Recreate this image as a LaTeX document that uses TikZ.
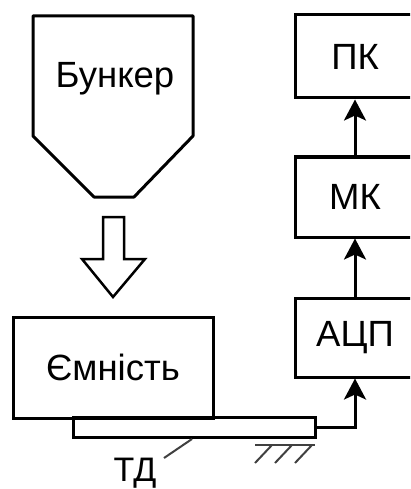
\documentclass[tikz,border=0pt]{standalone}
\usepackage{fontspec}
\setmainfont{Liberation Sans}
\usetikzlibrary{arrows.meta}
\tikzset{
  blok/.style={draw,line width=3pt,minimum width=120pt,inner sep=0pt},
  napys/.style={font=\fontsize{36.5}{42}\selectfont},
  strilka/.style={line width=3pt,-{Stealth[length=21pt,width=22pt,inset=5pt]}},
  tonka/.style={line width=2pt,black!75}
}
\begin{document}
\begin{tikzpicture}[x=1pt,y=-1pt]
\useasboundingbox (0,0) rectangle (410,489);
\clip (0,0) rectangle (410,489);
\draw[line width=3pt,line join=round] (33,136) -- (33,16) -- (193,16) -- (193,136) -- (134,197) -- (94,197) -- cycle;
\node[napys] (bunker) at (115,79) {Бункер};
\draw[line width=2.5pt,fill=white] (103,217) -- (124,217) -- (124,259) -- (145,259) -- (113,297) -- (82,259) -- (103,259) -- cycle;
\node[blok,napys,minimum width=200pt,minimum height=101pt] (emnist) at (113,367.5) {Ємність};
\node[draw,line width=3pt,minimum width=242pt,minimum height=20pt,inner sep=0pt] (td) at (194,427.5) {};
\node[blok,napys,minimum height=83pt] (pk) at (355,56.5) {ПК};
\node[blok,napys,minimum height=80pt] (mk) at (355,197) {МК};
\node[blok,napys,minimum height=79pt] (adc) at (355,337.5) {АЦП};
\draw[strilka] (td.east) -| (adc.south);
\draw[strilka] (adc.north) -- (mk.south);
\draw[strilka] (mk.north) -- (pk.south);
\node[font=\fontsize{34}{40}\selectfont,inner sep=0pt,anchor=base] (tdnapys) at (135,481) {ТД};
\coordinate (vynoska) at (164,458);
\draw[tonka] ([xshift=-2pt]td.south) -- (vynoska);
\draw[tonka] (255,445) -- (315,445);
\foreach \x in {255,275,295}
  \draw[tonka] (\x,463) -- (\x+17,445);
\end{tikzpicture}
\end{document}
